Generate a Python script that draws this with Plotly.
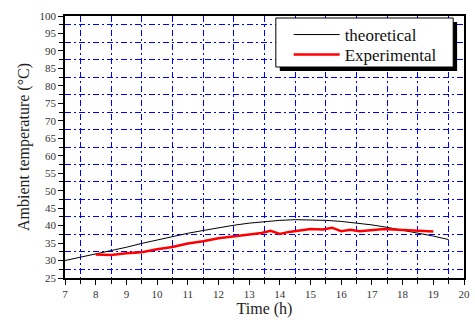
import plotly.graph_objects as go

# Theoretical ambient temperature curve
theo_time = [7, 7.5, 8, 8.5, 9, 9.5, 10, 10.5, 11, 11.5, 12, 12.5, 13,
             13.5, 14, 14.5, 15, 15.5, 16, 16.5, 17, 17.5, 18, 18.5, 19, 19.5]
theo_temp = [30.0, 30.9, 31.8, 32.8, 33.8, 34.9, 35.9, 36.9, 37.8, 38.6,
             39.4, 40.1, 40.7, 41.2, 41.5, 41.7, 41.7, 41.5, 41.2, 40.8,
             40.2, 39.5, 38.7, 37.9, 37.0, 36.0]

# Measured ambient temperature
exp_time = [8, 8.5, 9, 9.5, 10, 10.5, 11, 11.5, 12, 12.5, 13, 13.4, 13.7,
            14, 14.3, 14.6, 15, 15.4, 15.7, 16, 16.3, 16.6, 17, 17.4, 17.7,
            18, 18.5, 19]
exp_temp = [31.7, 31.6, 32.1, 32.4, 33.2, 33.9, 34.9, 35.5, 36.4, 37.0,
            37.5, 37.9, 38.5, 37.6, 38.2, 38.6, 39.0, 38.9, 39.4, 38.4,
            38.8, 38.4, 38.8, 39.0, 38.9, 38.8, 38.6, 38.3]

x_range = [7, 20]
y_range = [25, 100]

W, H = 475, 320
L, R, T, B = 65, 5, 16, 42
pw, ph = W - L - R, H - T - B


def px(xp):
    return (xp - L) / pw


def py(yp):
    return (H - B - yp) / ph


serif = "Liberation Serif"

fig = go.Figure()
fig.add_trace(go.Scatter(x=theo_time, y=theo_temp, mode="lines",
                         name="theoretical", legend="legend",
                         line=dict(color="black", width=1)))
fig.add_trace(go.Scatter(x=exp_time, y=exp_temp, mode="lines",
                         name="Experimental", legend="legend2",
                         line=dict(color="#ff0000", width=2.5)))

grid_minor = dict(showgrid=True, gridcolor="#0000ff", gridwidth=1,
                  griddash="6px,3px,2px,3px", ticks="outside", ticklen=4,
                  tickcolor="black")

fig.update_xaxes(range=x_range, tickmode="linear", tick0=7, dtick=1,
                 showgrid=False,
                 ticks="outside", ticklen=5, tickcolor="black",
                 showline=True, linecolor="black", linewidth=1.5, mirror=True,
                 minor=dict(dtick=0.5, **grid_minor),
                 tickfont=dict(family=serif, size=11, color="#333"),
                 title=dict(text="Time (h)", font=dict(family=serif, size=16,
                                                       color="#222"),
                            standoff=4),
                 zeroline=False)
fig.update_yaxes(range=y_range, tickmode="linear", tick0=25, dtick=5,
                 showgrid=False,
                 ticks="outside", ticklen=5, tickcolor="black",
                 showline=True, linecolor="black", linewidth=1.5, mirror=True,
                 minor=dict(dtick=2.5, **grid_minor),
                 tickfont=dict(family=serif, size=11, color="#333"),
                 title=dict(text="Ambient temperature (°C)",
                            font=dict(family=serif, size=16, color="#222"),
                            standoff=6),
                 zeroline=False)

# Legend frame with drop shadow
fig.add_shape(type="rect", xref="paper", yref="paper", layer="above",
              x0=px(283), x1=px(463), y0=py(71), y1=py(22),
              fillcolor="black", line=dict(width=0))
fig.add_shape(type="rect", xref="paper", yref="paper", layer="above",
              x0=px(279), x1=px(459), y0=py(67), y1=py(18),
              fillcolor="white", line=dict(color="black", width=1))

leg_common = dict(xanchor="left", yanchor="top", bgcolor="rgba(0,0,0,0)",
                  borderwidth=0, itemwidth=46,
                  font=dict(family=serif, size=17, color="#111"))

fig.update_layout(
    width=W, height=H,
    margin=dict(l=L, r=R, t=T, b=B),
    plot_bgcolor="white", paper_bgcolor="white",
    font=dict(family=serif),
    legend=dict(x=px(292), y=py(17), **leg_common),
    legend2=dict(x=px(292), y=py(37), **leg_common),
    showlegend=True,
)

fig.write_html("out.html")
